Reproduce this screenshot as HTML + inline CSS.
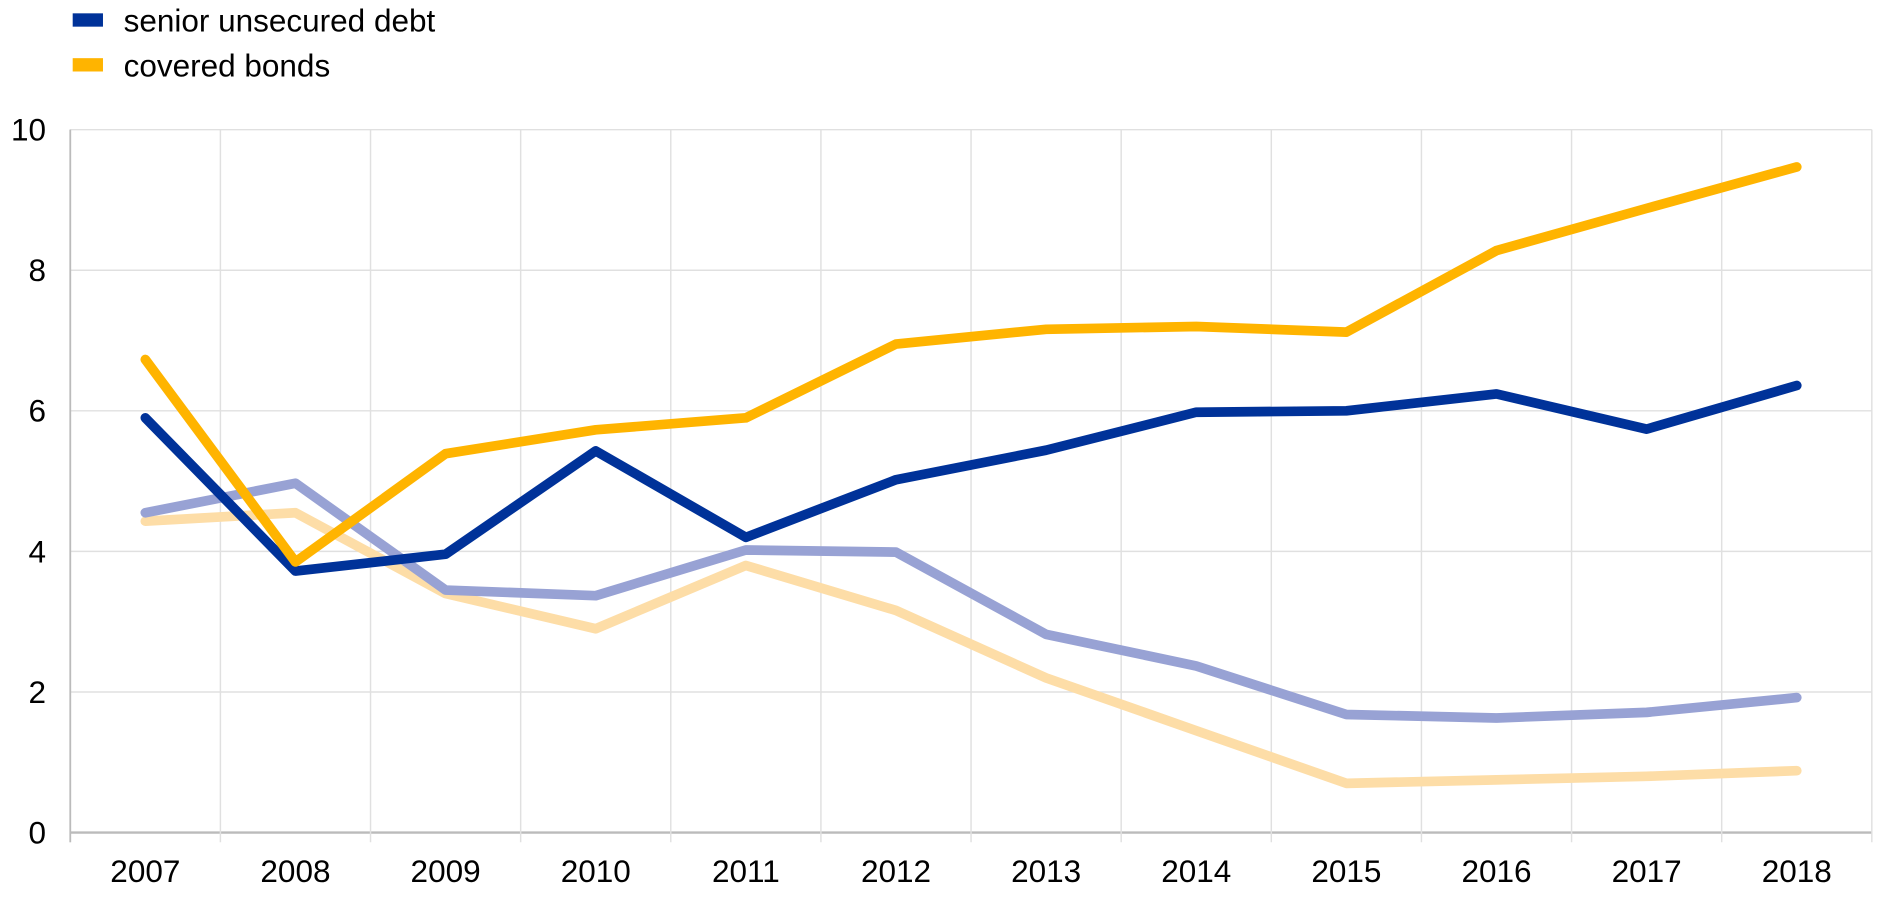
<!DOCTYPE html>
<html><head><meta charset="utf-8"><style>
html,body{margin:0;padding:0;background:#fff;}
svg{display:block;font-family:"Liberation Sans",Arial,sans-serif;}
</style></head><body>
<svg id="chart" width="1890" height="898" viewBox="0 0 1560 741" preserveAspectRatio="none" xmlns="http://www.w3.org/2000/svg">
<g>
 <rect x="60" y="11" width="25" height="11" fill="#003299"/>
 <text x="102" y="26" font-size="26" fill="#000">senior unsecured debt</text>
 <rect x="60" y="48" width="25" height="11" fill="#FFB400"/>
 <text x="102" y="63" font-size="26" fill="#000">covered bonds</text>
</g>
<g id="grid"></g><g id="axes"></g><g id="series"></g>
</svg>
<script>
const years=["2007","2008","2009","2010","2011","2012","2013","2014","2015","2016","2017","2018"];
const yTicks=[0,2,4,6,8,10];
const senior=[5.9,3.72,3.96,5.43,4.2,5.02,5.44,5.98,6.0,6.24,5.74,6.36];
const covered=[6.73,3.85,5.39,5.73,5.9,6.95,7.16,7.2,7.12,8.28,8.88,9.47];
const seniorLight=[4.55,4.97,3.45,3.37,4.02,3.99,2.82,2.37,1.68,1.63,1.71,1.92];
const coveredLight=[4.43,4.55,3.4,2.9,3.8,3.16,2.2,1.45,0.7,0.75,0.8,0.88];
const NS="http://www.w3.org/2000/svg";
const L=58,R=1545,T=107,B=687,step=(R-L)/years.length;
const x=i=>L+step*(i+0.5);
const y=v=>B-(v/10)*(B-T);
function mk(tag,attrs,parent){const e=document.createElementNS(NS,tag);for(const k in attrs)e.setAttribute(k,attrs[k]);parent.appendChild(e);return e;}
const grid=document.getElementById('grid'),axes=document.getElementById('axes'),series=document.getElementById('series');
yTicks.forEach(t=>{
 const g=mk('line',{x1:L,x2:R,y1:y(t),y2:y(t),stroke:t===0?'#bbb':'#e0e0e0','stroke-width':t===0?2:1.2},grid);
 
 
 const lb=mk('text',{x:38,y:y(t)+9,'text-anchor':'end','font-size':26,fill:'#000'},axes);
 lb.textContent=t;
 
 
});
for(let i=0;i<=years.length;i++){
 const gx=L+step*i;
 const v=mk('line',{x1:gx,x2:gx,y1:T,y2:B+8,stroke:'#e0e0e0','stroke-width':1.2},grid);
 
 
}
mk('line',{x1:L,x2:L,y1:T,y2:B+8,stroke:'#bbb','stroke-width':1.5},axes);
years.forEach((yr,i)=>{
 const t=mk('text',{x:x(i),y:728,'text-anchor':'middle','font-size':26,fill:'#000'},axes);
 t.textContent=yr;
 
 
});
function line(data,color,name){
 const p=mk('polyline',{points:data.map((v,i)=>x(i)+','+y(v)).join(' '),fill:'none',stroke:color,'stroke-width':8,'stroke-linejoin':'round','stroke-linecap':'round'},series);
 
 
}
line(coveredLight,'#FDDDA7','covered-bonds-light-line');
line(seniorLight,'#98A2D4','senior-unsecured-light-line');
line(senior,'#003299','senior-unsecured-debt-line');
line(covered,'#FFB400','covered-bonds-line');
</script>
</body></html>
